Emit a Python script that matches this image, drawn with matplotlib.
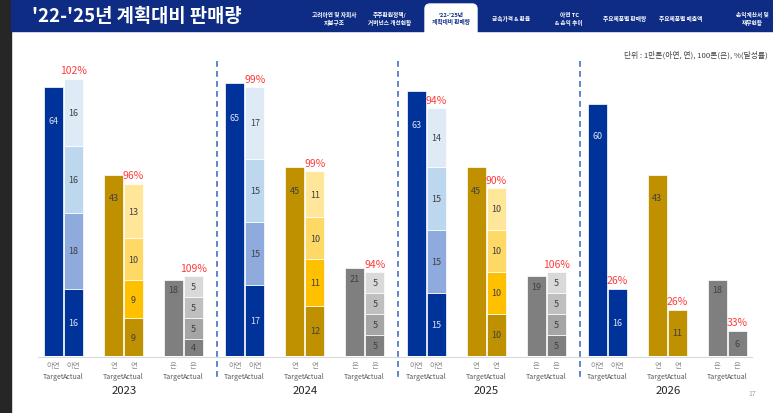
import matplotlib.pyplot as plt
from matplotlib.patches import Rectangle, FancyBboxPatch

plt.rcParams['font.family'] = ['Noto Sans CJK KR', 'DejaVu Sans']

# data
years = ['2023', '2024', '2025', '2026']
metals = ['아연', '연', '은']
zinc_target = [64, 65, 63, 60]
lead_target = [43, 45, 45, 43]
silver_target = [18, 21, 19, 18]
# quarterly actuals, bottom to top
zinc_actual = [[16, 18, 16, 16], [17, 15, 15, 17], [15, 15, 15, 14], [16]]
lead_actual = [[9, 9, 10, 13], [12, 11, 10, 11], [10, 10, 10, 10], [11]]
silver_actual = [[4, 5, 5, 5], [5, 5, 5, 5], [5, 5, 5, 5], [6]]
zinc_rate = [102, 99, 94, 26]
lead_rate = [96, 99, 90, 26]
silver_rate = [109, 94, 106, 33]
tabs = ['고려아연 및 자회사\n지분구조', '주주환원정책/\n거버넌스 개선현황', "'22-'25년\n계획대비 판매량",
        '금속가격 & 환율', '아연 TC\n& 손익 추이', '주요제품별 판매량', '주요제품별 매출액',
        '손익계산서 및\n재무현황']
tab_x = [334, 390, 451, 511, 569, 625, 681, 752]

targets = [zinc_target, lead_target, silver_target]
actuals = [zinc_actual, lead_actual, silver_actual]
rates = [zinc_rate, lead_rate, silver_rate]

target_colors = ['#003399', '#BF9000', '#7F7F7F']
quarter_colors = [['#003399', '#8FAADC', '#BDD7EE', '#DEEBF7'],
                  ['#BF9000', '#FFC000', '#FFD966', '#FFE699'],
                  ['#7F7F7F', '#A5A5A5', '#BFBFBF', '#D9D9D9']]
navy = '#0E2C84'

W, H = 773, 414
base_px, px_per_unit = 357, 4.2
fig = plt.figure(figsize=(W / 100, H / 100), dpi=100)

# background / decoration layer in pixel coordinates
bg = fig.add_axes([0, 0, 1, 1])
bg.set_xlim(0, W)
bg.set_ylim(H, 0)
bg.axis('off')
bg.add_patch(Rectangle((0, 0), 10.5, H, color='#262626'))
bg.add_patch(Rectangle((10.5, 0), W, 32, color=navy))
bg.add_patch(FancyBboxPatch((425, 5), 52, 35, boxstyle='round,pad=0,rounding_size=5',
                            color='white'))
bg.text(32, 17, "'22-'25년 계획대비 판매량", color='white', fontsize=13.5,
        fontweight='bold', va='center')
for i, (t, x) in enumerate(zip(tabs, tab_x)):
    bg.text(x, 19, t, color=navy if i == 2 else 'white', fontsize=4.1,
            fontweight='bold', ha='center', va='center', linespacing=1.35)
bg.text(768, 55, '단위 : 1만톤(아연, 연), 100톤(은), %(달성률)', fontsize=5.6,
        color='#404040', ha='right', va='center')
bg.text(752, 394, '17', fontsize=5, color='#A0A0A0', ha='center', va='center')

# chart layer
ax = fig.add_axes([0, (H - base_px) / H, 1, (base_px - 40) / H])
ax.set_xlim(0, W)
ax.set_ylim(0, (base_px - 40) / px_per_unit)
ax.axis('off')
ax.patch.set_alpha(0)

g0, g_step, m_step, bw = 44, 181.3, 60, 19

for g, year in enumerate(years):
    gx = g0 + g * g_step
    for m in range(3):
        xt = gx + m * m_step
        xa = xt + 20
        tv = targets[m][g]
        ax.bar(xt, tv, width=bw, align='edge', color=target_colors[m],
               edgecolor='white', linewidth=0.5)
        ax.text(xt + bw / 2, tv * 0.875, str(tv), ha='center', va='center', fontsize=6.5,
                color='#D9E2F3' if m == 0 else '#404040')
        bottom = 0
        for q, v in enumerate(actuals[m][g]):
            ax.bar(xa, v, width=bw, align='edge', bottom=bottom,
                   color=quarter_colors[m][q], edgecolor='white', linewidth=0.5)
            ax.text(xa + bw / 2, bottom + v / 2, str(v), ha='center', va='center',
                    fontsize=6.5, color='#D9E2F3' if (m == 0 and q == 0) else '#404040')
            bottom += v
        ax.annotate(f'{rates[m][g]}%', (xa + bw / 2, bottom), xytext=(0, 2.5),
                    textcoords='offset points', ha='center', va='bottom',
                    fontsize=7.5, color='#FF3B3B')
        for x, kind in [(xt, 'Target'), (xa, 'Actual')]:
            bg.text(x + bw / 2, 366, metals[m], ha='center', va='center',
                    fontsize=5.3, color='#8C8C8C')
            bg.text(x + bw / 2, 377, kind, ha='center', va='center',
                    fontsize=5.1, color='#595959')
    bg.text(gx + m_step + 20, 391, year, ha='center', va='center', fontsize=8.2,
            color='#262626', fontweight='medium')
    if g < len(years) - 1:
        bg.plot([gx + 173, gx + 173], [62, 381], color='#4472C4', lw=1.2,
                linestyle=(0, (3.5, 2.5)))

bg.plot([38, 752], [base_px + 0.5, base_px + 0.5], color='#D9D9D9', lw=0.8)

fig.savefig('out.png', dpi=100)
